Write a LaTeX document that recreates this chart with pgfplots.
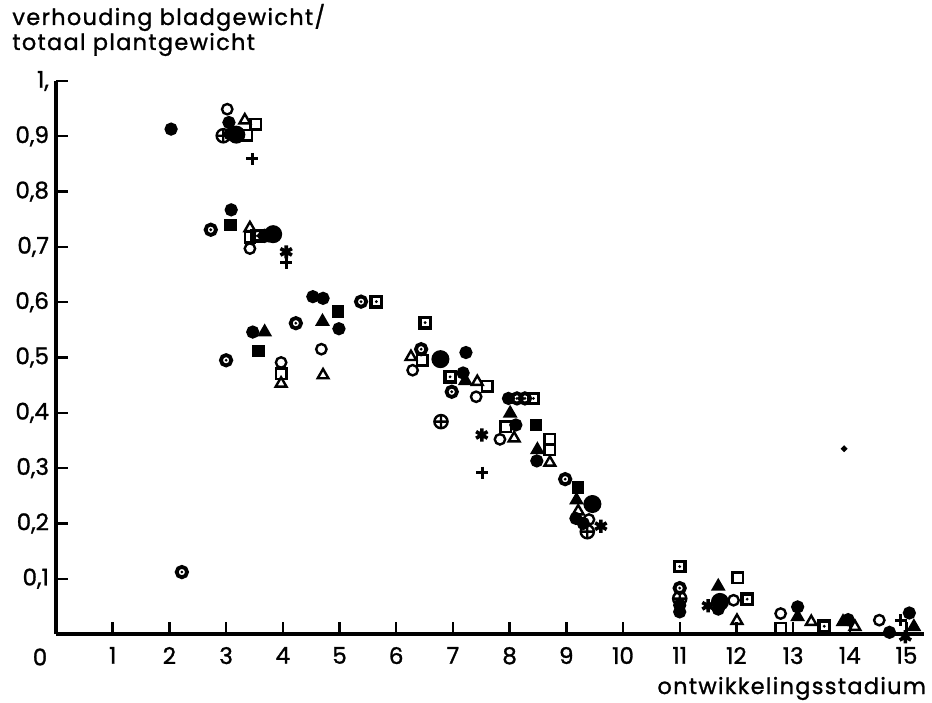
\documentclass[border=0pt]{standalone}
\usepackage{fontspec}
\setmainfont{Poppins}[FakeBold=1.2]
\newfontfamily\labfont[LetterSpace=6, FakeBold=1.2]{Poppins}
\usepackage{pgfplots}
\pgfplotsset{compat=1.18}
\pgfdeclareplotmark{odot}{%
  \pgfpathcircle{\pgfpointorigin}{\pgfplotmarksize}\pgfusepathqstroke
  \pgfpathcircle{\pgfpointorigin}{0.3\pgfplotmarksize}\pgfusepathqfill}
\pgfdeclareplotmark{sqdot}{%
  \pgfpathrectangle{\pgfpoint{-\pgfplotmarksize}{-\pgfplotmarksize}}{\pgfpoint{2\pgfplotmarksize}{2\pgfplotmarksize}}\pgfusepathqstroke
  \pgfpathcircle{\pgfpointorigin}{0.3\pgfplotmarksize}\pgfusepathqfill}
\begin{document}
\begin{tikzpicture}
\begin{axis}[
  anchor=origin, at={(0,0)},
  x=28.35pt, y=276.5pt,
  xmin=0, xmax=15.3, ymin=0, ymax=1,
  axis x line=bottom, axis y line=left,
  axis line style={-, line width=1.6pt},
  xtick={1,2,3,4,5,6,7,8,9,10,11,12,13,14,15},
  ytick={0.1,0.2,0.3,0.4,0.5,0.6,0.7,0.8,0.9,1},
  yticklabels={{0,1},{0,2},{0,3},{0,4},{0,5},{0,6},{0,7},{0,8},{0,9},{1,}},
  tick align=inside, major tick length=6pt,
  tick style={line width=1.2pt, black},
  clip=false,
  /pgf/number format/assume math mode=true,
  ticklabel style={font=\fontsize{11.5}{13}\selectfont},
  xticklabel style={yshift=-3pt},
  every axis plot/.append style={only marks, mark options={line width=1.2pt, fill=black, draw=black}},
]
% small filled circles
\addplot[mark=*, mark size=2.7pt] coordinates {
(2.03,0.913) (3.05,0.925) (3.07,0.904) (3.09,0.767) (3.75,0.72) (3.47,0.546)
(4.53,0.610) (4.71,0.607) (4.99,0.552) (7.23,0.509) (7.18,0.472) (7.98,0.426)
(8.11,0.378) (8.48,0.313) (9.17,0.209) (9.30,0.200) (11.0,0.040) (11.0,0.052)
(11.68,0.045) (13.08,0.049) (13.97,0.026) (14.70,0.003) (15.05,0.038)};
% big filled circles
\addplot[mark=*, mark size=3.9pt] coordinates {
(3.18,0.903) (3.83,0.723) (6.78,0.497) (9.46,0.235) (11.71,0.058)};
% open circles
\addplot[mark=o, mark size=2.6pt] coordinates {
(3.02,0.949) (3.42,0.697) (3.97,0.491) (4.68,0.515) (6.29,0.477) (7.41,0.429)
(7.83,0.352) (9.40,0.207) (11.95,0.061) (12.78,0.037) (14.52,0.025)};
% circle with dot
\addplot[mark=odot, mark size=2.6pt, mark options={line width=1.9pt}] coordinates {
(2.22,0.112) (2.73,0.731) (3.68,0.72) (3.0,0.495) (4.23,0.562) (5.38,0.601)
(6.44,0.515) (6.98,0.438) (8.13,0.426) (8.27,0.426) (8.98,0.280) (11.0,0.083)};
% circle with plus
\addplot[mark=oplus, mark size=3.3pt] coordinates {
(2.95,0.901) (6.79,0.384) (9.37,0.185) (11.0,0.064)};
% filled squares
\addplot[mark=square*, mark size=2.5pt] coordinates {
(3.08,0.740) (3.57,0.512) (4.97,0.583) (8.47,0.378) (9.21,0.265)};
% open squares
\addplot[mark=square, mark size=2.6pt] coordinates {
(3.36,0.902) (3.52,0.922) (3.42,0.717) (3.97,0.471) (6.46,0.495) (7.61,0.448)
(7.93,0.375) (8.71,0.352) (8.71,0.333) (12.02,0.102) (12.78,0.010)};
% square with dot
\addplot[mark=sqdot, mark size=2.6pt, mark options={line width=1.7pt}] coordinates {
(3.55,0.72) (5.65,0.601) (6.51,0.563) (6.95,0.465) (8.42,0.426) (11.0,0.122)
(12.19,0.063) (13.55,0.014)};
% filled triangles
\addplot[mark=triangle*, mark size=3.1pt] coordinates {
(3.68,0.546) (4.70,0.565) (7.22,0.458) (8.01,0.399) (8.49,0.333) (9.18,0.242)
(11.68,0.086) (13.08,0.031) (13.88,0.022) (15.13,0.013)};
% open triangles
\addplot[mark=triangle, mark size=3.1pt] coordinates {
(3.33,0.929) (3.42,0.734) (3.97,0.453) (4.71,0.468) (6.26,0.501) (7.43,0.456)
(8.08,0.354) (8.71,0.310) (9.21,0.222) (12.01,0.024) (13.32,0.022) (14.09,0.013)};
% stars
\addplot[mark=asterisk, mark size=3.3pt, mark options={line width=1.8pt}] coordinates {
(4.06,0.691) (7.51,0.360) (9.61,0.195) (11.50,0.051) (14.98,-0.005)};
% plus
\addplot[mark=+, mark size=3pt, mark options={line width=1.5pt}] coordinates {
(3.46,0.859) (4.06,0.671) (7.52,0.292) (14.90,0.025)};
% tiny dot
\addplot[mark=*, mark size=0.9pt] coordinates {(13.9,0.335)};
\node[font=\fontsize{11.5}{13}\selectfont] at ([xshift=-8pt,yshift=-11.5pt]axis cs:0,0) {0};
\node[anchor=base east, inner sep=0, font=\labfont\fontsize{11.2}{13}\selectfont] at ([yshift=-30pt]axis cs:15.35,0) {ontwikkelingsstadium};
\node[anchor=base west, inner sep=0, font=\labfont\fontsize{11.2}{13}\selectfont] at ([xshift=-22pt,yshift=304.5pt]axis cs:0,0) {verhouding bladgewicht/};
\node[anchor=base west, inner sep=0, font=\labfont\fontsize{11.2}{13}\selectfont] at ([xshift=-22pt,yshift=292pt]axis cs:0,0) {totaal plantgewicht};
\end{axis}
\pgfresetboundingbox
\path[use as bounding box] (-28pt,-34pt) rectangle (438pt,317pt);
\end{tikzpicture}
\end{document}
